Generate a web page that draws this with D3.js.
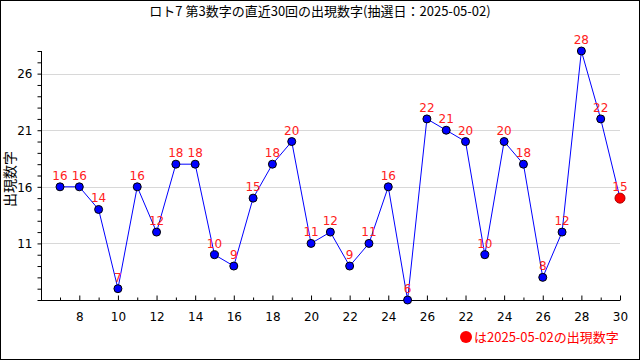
<!DOCTYPE html>
<html><head><meta charset="utf-8">
<script src="https://cdn.jsdelivr.net/npm/d3@7"></script>
<style>
html,body{margin:0;padding:0;background:#fff;}
svg{display:block;}
text{font-family:"DejaVu Sans","Noto Sans CJK JP",sans-serif;}
.jp{font-family:"Noto Sans CJK JP",sans-serif;}
</style></head>
<body>
<script>
const title = "ロト7 第3数字の直近30回の出現数字(抽選日：2025-05-02)";
const yLabel = "出現数字";
const legendText = "は2025-05-02の出現数字";
const draws = d3.range(1, 31);
const values = [16,16,14,7,16,12,18,18,10,9,15,18,20,11,12,9,11,16,6,22,21,20,10,20,18,8,12,28,22,15];
const xTickPositions = [2,4,6,8,10,12,14,16,18,20,22,24,26,28,30];
const xTickLabels = ["8","10","12","14","16","18","20","22","24","26","22","24","26","28","30"];
const yTicks = [11,16,21,26];
const yDomain = [6,28];

const W = 640, H = 360;
const svg = d3.select("body").append("svg").attr("width", W).attr("height", H);
svg.append("rect").attr("x",0.5).attr("y",0.5).attr("width",W-1).attr("height",H-1)
  .attr("fill","#fff").attr("stroke","#000");

const x = d3.scaleLinear().domain([1,30]).range([60,620]);
const y = d3.scaleLinear().domain(yDomain).range([300,51]);
const axisLeft = 41, plotRight = 620;

// gridlines
svg.append("g").selectAll("line").data(yTicks).join("line")
  .attr("x1", axisLeft).attr("x2", plotRight)
  .attr("y1", d => Math.round(y(d))+0.5).attr("y2", d => Math.round(y(d))+0.5)
  .attr("stroke","#d8d8d8");

// y axis
const yAx = svg.append("g").attr("transform", `translate(${axisLeft+0.5},0)`);
yAx.call(d3.axisLeft(y).tickValues(d3.range(6,29)).tickSize(4).tickFormat(""));
yAx.select(".domain").attr("d", `M0,${y(28)}V${y(6)}`);
yAx.selectAll(".tick line").attr("stroke","#000");
yAx.selectAll(".tick").filter(d => yTicks.includes(d)).append("text")
  .attr("x",-9).attr("dy","0.35em").attr("text-anchor","end")
  .attr("fill","#000").attr("font-size",12).text(d => d);

// x axis
const xAx = svg.append("g").attr("transform", `translate(0,${y(6)+0.5})`);
xAx.call(d3.axisTop(x).tickValues(draws).tickSize(3).tickFormat(""));
xAx.select(".domain").attr("d", `M${axisLeft},0H${plotRight}`);
xAx.selectAll(".tick line").attr("stroke","#000")
  .attr("y2", d => xTickPositions.includes(d) ? -5 : -3);
xAx.selectAll(".tick").filter(d => xTickPositions.includes(d)).append("text")
  .attr("y",20).attr("text-anchor","middle").attr("fill","#000").attr("font-size",12)
  .text(d => xTickLabels[xTickPositions.indexOf(d)]);

// line
const pts = draws.map((d,i) => ({d, v: values[i]}));
svg.append("path").datum(pts)
  .attr("d", d3.line().x(p => x(p.d)).y(p => y(p.v)))
  .attr("fill","none").attr("stroke","#0000ff").attr("stroke-width",1);

// points
svg.append("g").selectAll("circle").data(pts).join("circle")
  .attr("cx", p => x(p.d)).attr("cy", p => y(p.v))
  .attr("r", (p,i) => i === pts.length-1 ? 5 : 4)
  .attr("fill", (p,i) => i === pts.length-1 ? "#ff0000" : "#0000ff")
  .attr("stroke", (p,i) => i === pts.length-1 ? "#aa0000" : "#000").attr("stroke-width",1);

// value labels
svg.append("g").selectAll("text").data(pts).join("text")
  .attr("x", p => x(p.d)).attr("y", p => y(p.v) - 7)
  .attr("text-anchor","middle").attr("fill","#ff2020").attr("font-size",12)
  .text(p => p.v);

// title
svg.append("text").attr("class","jp").attr("x",320).attr("y",16).attr("text-anchor","middle")
  .attr("font-size",13).attr("fill","#000").text(title);

// y label
svg.append("text").attr("class","jp").attr("transform","translate(15,179) rotate(-90)")
  .attr("text-anchor","middle").attr("font-size",14).attr("fill","#000").text(yLabel);

// legend
svg.append("circle").attr("cx",466).attr("cy",337).attr("r",6).attr("fill","#ff0000");
svg.append("text").attr("class","jp").attr("x",474).attr("y",342).attr("font-size",13)
  .attr("fill","#ff0000").text(legendText);
</script>
</body></html>
